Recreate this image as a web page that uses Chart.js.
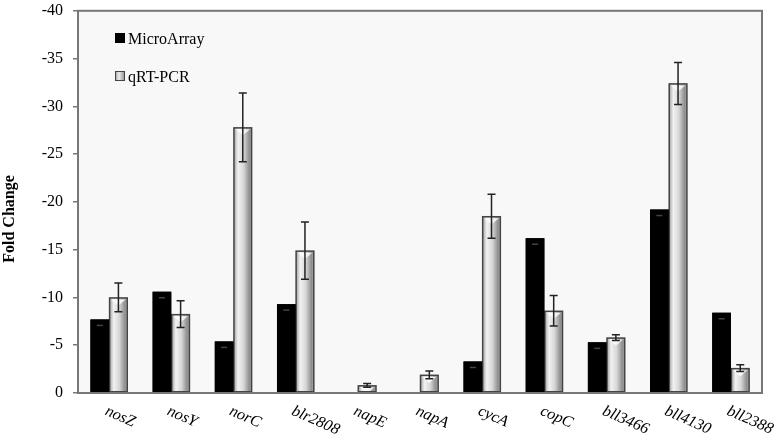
<!DOCTYPE html>
<html>
<head>
<meta charset="utf-8">
<script src="https://cdn.jsdelivr.net/npm/chart.js@4/dist/chart.umd.min.js"></script>
<style>
  body { margin: 0; background: #fff; }
  #wrap { width: 783px; height: 438px; }
</style>
</head>
<body>
<div id="wrap"><canvas id="myChart" width="783" height="438"></canvas></div>
<script>
// data
const categories = ["nosZ", "nosY", "norC", "blr2808", "napE", "napA", "cycA", "copC", "bll3466", "bll4130", "bll2388"];
const microArray = [-7.7, -10.6, -5.4, -9.3, null, null, -3.3, -16.2, -5.3, -19.2, -8.4];
const qrtPcr = [-10.0, -8.25, -27.8, -14.9, -0.8, -1.9, -18.5, -8.6, -5.8, -32.4, -2.6];
const qrtErr = [1.5, 1.4, 3.6, 3.0, 0.2, 0.4, 2.3, 1.6, 0.3, 2.2, 0.35];
const yTicks = [0, -5, -10, -15, -20, -25, -30, -35, -40];
const seriesNames = ["MicroArray", "qRT-PCR"];
const yTitle = "Fold Change";

const serif = "'Liberation Serif', 'DejaVu Serif', serif";
const allData = [microArray, qrtPcr];

// plot box background + frame
const boxPlugin = {
    id: "box",
    beforeDatasetsDraw(chart) {
        const a = chart.chartArea, ctx = chart.ctx;
        ctx.save();
        ctx.fillStyle = "#f8f8f8";
        ctx.fillRect(a.left, a.top, a.right - a.left, a.bottom - a.top);
        ctx.restore();
    },
    afterDraw(chart) {
        const a = chart.chartArea, ctx = chart.ctx;
        ctx.save();
        ctx.strokeStyle = "#777";
        ctx.lineWidth = 2;
        ctx.strokeRect(a.left, a.top, a.right - a.left, a.bottom - a.top);
        ctx.restore();
    }
};

// shaded look of the bars
const shadePlugin = {
    id: "shade",
    afterDatasetDraw(chart, args) {
        const ctx = chart.ctx;
        const meta = chart.getDatasetMeta(args.index);
        meta.data.forEach((bar, i) => {
            if (allData[args.index][i] == null) return;
            const x0 = bar.x - bar.width / 2, x1 = bar.x + bar.width / 2;
            const top = Math.min(bar.y, bar.base), bot = Math.max(bar.y, bar.base);
            ctx.save();
            if (args.index === 1) {
                const g = ctx.createLinearGradient(x0, 0, x1, 0);
                g.addColorStop(0, "#9a9a9a");
                g.addColorStop(0.25, "#f2f2f2");
                g.addColorStop(0.55, "#d6d6d6");
                g.addColorStop(0.85, "#8e8e8e");
                g.addColorStop(1, "#b0b0b0");
                ctx.fillStyle = g;
                ctx.fillRect(x0 + 1, top + 1, x1 - x0 - 2, bot - top - 2);
                // little bevel at the top
                ctx.fillStyle = "rgba(255,255,255,0.8)";
                ctx.beginPath();
                ctx.moveTo(x0 + 2, top + 2);
                ctx.lineTo(x1 - 2, top + 2);
                ctx.lineTo(bar.x, top + 8);
                ctx.closePath();
                ctx.fill();
                ctx.strokeStyle = "#444";
                ctx.lineWidth = 1.5;
                ctx.strokeRect(x0 + 0.5, top + 0.5, x1 - x0 - 1, bot - top - 1);
            } else {
                ctx.fillStyle = "#000";
                ctx.fillRect(x0, top, x1 - x0, bot - top);
                ctx.strokeStyle = "#444";
                ctx.lineWidth = 1.5;
                ctx.beginPath();
                ctx.moveTo(bar.x - 3, top + 6);
                ctx.lineTo(bar.x + 3, top + 6);
                ctx.stroke();
            }
            ctx.restore();
        });
    }
};

// error bars on qRT-PCR
const errPlugin = {
    id: "errbars",
    afterDatasetsDraw(chart) {
        const ctx = chart.ctx, y = chart.scales.y;
        const meta = chart.getDatasetMeta(1);
        ctx.save();
        ctx.strokeStyle = "#222";
        ctx.lineWidth = 1.5;
        meta.data.forEach((bar, i) => {
            const hi = y.getPixelForValue(qrtPcr[i] - qrtErr[i]);
            const lo = y.getPixelForValue(qrtPcr[i] + qrtErr[i]);
            ctx.beginPath();
            ctx.moveTo(bar.x, hi); ctx.lineTo(bar.x, lo);
            ctx.moveTo(bar.x - 4, hi); ctx.lineTo(bar.x + 4, hi);
            ctx.moveTo(bar.x - 4, lo); ctx.lineTo(bar.x + 4, lo);
            ctx.stroke();
        });
        ctx.restore();
    }
};

// legend inside the plot, axis title, slanted category labels
const labelPlugin = {
    id: "labels",
    afterDraw(chart) {
        const ctx = chart.ctx, a = chart.chartArea, x = chart.scales.x;
        ctx.save();
        // legend
        ctx.font = "16px " + serif;
        ctx.textBaseline = "alphabetic";
        ctx.fillStyle = "#000";
        ctx.fillRect(a.left + 37, 33, 10, 10);
        ctx.fillText(seriesNames[0], a.left + 50, 44);
        const g = ctx.createLinearGradient(a.left + 37, 0, a.left + 47, 0);
        g.addColorStop(0, "#999"); g.addColorStop(0.4, "#eee"); g.addColorStop(1, "#888");
        ctx.fillStyle = g;
        ctx.fillRect(a.left + 37, 71, 10, 10);
        ctx.strokeStyle = "#444";
        ctx.lineWidth = 1;
        ctx.strokeRect(a.left + 37.5, 71.5, 9, 9);
        ctx.fillStyle = "#000";
        ctx.fillText(seriesNames[1], a.left + 50, 82);

        // y title
        ctx.save();
        ctx.font = "bold 16px " + serif;
        ctx.textAlign = "center";
        ctx.textBaseline = "middle";
        ctx.translate(10, 219);
        ctx.rotate(-Math.PI / 2);
        ctx.fillText(yTitle, 0, 0);
        ctx.restore();

        // x labels
        ctx.font = "italic 16px " + serif;
        ctx.textAlign = "left";
        ctx.textBaseline = "top";
        categories.forEach((c, i) => {
            const px = x.getPixelForValue(i);
            ctx.save();
            ctx.translate(px, a.bottom + 10);
            ctx.rotate(24 * Math.PI / 180);
            ctx.fillText(c, 0, 0);
            ctx.restore();
        });
        ctx.restore();
    }
};

const ctx = document.getElementById("myChart").getContext("2d");
new Chart(ctx, {
    type: "bar",
    data: {
        labels: categories,
        datasets: [{
            label: seriesNames[0],
            data: microArray,
            backgroundColor: "#000",
            borderWidth: 0
        }, {
            label: seriesNames[1],
            data: qrtPcr,
            backgroundColor: "#ccc",
            borderWidth: 0
        }]
    },
    options: {
        responsive: false,
        animation: false,
        devicePixelRatio: 1,
        categoryPercentage: 0.6,
        barPercentage: 1.0,
        layout: { padding: { top: 1, right: 21, left: 0, bottom: 0 } },
        plugins: {
            legend: { display: false },
            tooltip: { enabled: false }
        },
        scales: {
            x: {
                grid: { display: false },
                border: { display: false },
                ticks: { display: false },
                afterFit(scale) { scale.height = 45; }
            },
            y: {
                reverse: true,
                min: -40,
                max: 0,
                afterBuildTicks(scale) { scale.ticks = yTicks.map(v => ({ value: v })); },
                ticks: {
                    color: "#000",
                    padding: 10,
                    font: { family: serif, size: 16, lineHeight: 0.1 },
                    callback: v => String(v)
                },
                grid: { drawOnChartArea: false, tickLength: 5, color: "#777", lineWidth: 1.5 },
                border: { display: false },
                afterFit(scale) { scale.width = 78; }
            }
        }
    },
    plugins: [boxPlugin, shadePlugin, errPlugin, labelPlugin]
});
</script>
</body>
</html>
